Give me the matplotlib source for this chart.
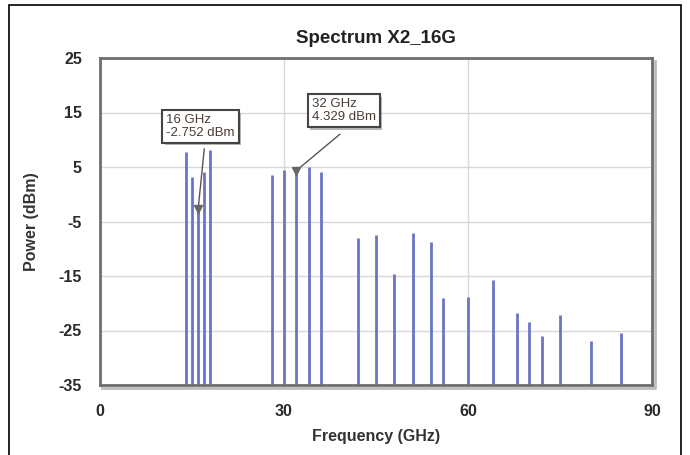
import matplotlib.pyplot as plt
import matplotlib.patheffects as pe
from matplotlib.patches import Rectangle

plt.rcParams['font.family'] = ['Liberation Sans', 'DejaVu Sans']
plt.rcParams['axes.unicode_minus'] = False

# spectrum lines
freq = [14, 15, 16, 17, 18, 28, 30, 32, 34, 36, 42, 45, 48, 51, 54, 56, 60,
        64, 68, 70, 72, 75, 80, 85]
power = [7.8, 3.2, -2.752, 4.0, 8.2, 3.5, 4.4, 4.329, 5.0, 4.0, -8.1, -7.4,
         -14.6, -7.2, -8.7, -19.0, -18.8, -15.7, -21.8, -23.5, -26.1, -22.2,
         -27.0, -25.5]

# markers: (freq, box position in data coords)
marked = [16, 32]
marker_box = [(10.8, 14.7), (34.5, 17.6)]
marker_arrow_start = [(17.0, 8.3), (39.1, 11.0)]

yticks = [25, 15, 5, -5, -15, -25, -35]
xticks = [0, 30, 60, 90]

fig = plt.figure(figsize=(6.9, 4.55), dpi=100)
ax = fig.add_axes([100 / 690, 70 / 455, 552 / 690, 327 / 455])

ax.vlines(freq, -35, power, color='#6b74c4', linewidth=2, zorder=3)

ax.set_xlim(0, 90)
ax.set_ylim(-35, 25)
ax.set_xticks(xticks)
ax.set_yticks(yticks)
ax.tick_params(length=0, labelsize=11.5)
ax.tick_params(axis='x', pad=14)
ax.tick_params(axis='y', pad=13)
for lab in ax.get_xticklabels() + ax.get_yticklabels():
    lab.set_fontweight('bold')
    lab.set_color('#2a2a2a')
ax.grid(True, color='#d8d8d8', linewidth=1)
ax.set_axisbelow(True)

for s in ax.spines.values():
    s.set_color('#6e6e6e')
    s.set_linewidth(2)
    s.set_zorder(5)

# drop shadow along right and bottom edges of the frame
ax.plot([1.006, 1.006, 0.004], [0.99, -0.009, -0.009], transform=ax.transAxes,
        color='#bdbdbd', linewidth=2, clip_on=False, zorder=4)

ax.set_title('Spectrum X2_16G', fontsize=13.5, fontweight='bold', pad=11,
             color='#222222')
ax.set_xlabel('Frequency (GHz)', fontsize=11.5, fontweight='bold',
              color='#333333', labelpad=7)
ax.set_ylabel('Power (dBm)', fontsize=11.5, fontweight='bold',
              color='#333333', labelpad=14)

for f, (bx, by), (sx, sy) in zip(marked, marker_box, marker_arrow_start):
    p = power[freq.index(f)]
    ax.plot([sx, f], [sy, p], color='#555555', linewidth=1, zorder=6)
    ax.plot(f, p, marker='v', color='#666666', markersize=6, zorder=7)
    t = ax.text(bx, by, f'{f} GHz\n{p:.3f} dBm', fontsize=9.5,
                color='#4a3c34', va='top', ha='left', linespacing=1.05,
                zorder=8,
                bbox=dict(boxstyle='square,pad=0.3', facecolor='white',
                          edgecolor='#444444', linewidth=1.5))
    t.get_bbox_patch().set_path_effects(
        [pe.SimplePatchShadow(offset=(2, -2), shadow_rgbFace='#999999',
                              alpha=0.7), pe.Normal()])

# outer border of the figure
fig.patches.append(Rectangle((9 / 690, -0.05), 672 / 690, 1.05 - 5 / 455,
                             transform=fig.transFigure, fill=False,
                             edgecolor='black', linewidth=1.2))

fig.savefig('out.png', dpi=100)
